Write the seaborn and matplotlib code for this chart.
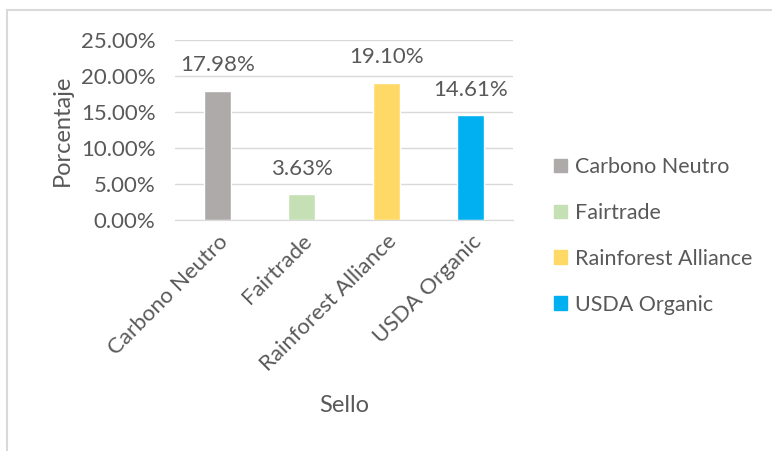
import matplotlib
matplotlib.use('Agg')
from matplotlib import pyplot as plt
from matplotlib.patches import Rectangle
import seaborn as sns
import pandas as pd

sns.set_style('white')
plt.rcParams['font.family'] = ['Lato', 'DejaVu Sans']

sellos = ['Carbono Neutro', 'Fairtrade', 'Rainforest Alliance', 'USDA Organic']
porcentajes = [17.98, 3.63, 19.10, 14.61]
colores = ['#AEAAAA', '#C5E0B4', '#FFD966', '#00B0F0']
yticks = [0, 5, 10, 15, 20, 25]

df = pd.DataFrame({'Sello': sellos, 'Porcentaje': porcentajes})
gray = '#595959'

fig = plt.figure(figsize=(7.72, 4.51), dpi=100)
ax = fig.add_axes([0.2267, 0.512, 0.438, 0.399])
sns.barplot(data=df, x='Sello', y='Porcentaje', hue='Sello', palette=colores,
            width=0.32, ax=ax, legend=False, saturation=1)

ax.set_ylim(0, 25)
ax.set_yticks(yticks)
ax.set_yticklabels([f'{v:.2f}%' for v in yticks], color=gray, fontsize=16)
ax.yaxis.grid(True, color='#D9D9D9', linewidth=1)
ax.set_axisbelow(True)
for s in ['top', 'right', 'left']:
    ax.spines[s].set_visible(False)
ax.spines['bottom'].set_color('#D9D9D9')
ax.tick_params(axis='y', length=0, pad=14)
ax.tick_params(axis='x', length=0, pad=8)
ax.set_xticks(range(len(sellos)))
ax.set_xticklabels(sellos, rotation=45, ha='right', rotation_mode='anchor',
                   color=gray, fontsize=16)
ax.set_xlabel('Sello', color=gray, fontsize=17, labelpad=14)
ax.set_ylabel('Porcentaje', color=gray, fontsize=17, labelpad=6)

for i, v in enumerate(porcentajes):
    ax.annotate(f'{v:.2f}%', (i, v), xytext=(0, 11), textcoords='offset points',
                ha='center', va='bottom', color=gray, fontsize=16)

handles = [Rectangle((0, 0), 1, 1, color=c) for c in colores]
fig.legend(handles, sellos, loc='center left', bbox_to_anchor=(0.692, 0.477),
           frameon=False, fontsize=15.5, labelcolor=gray, handlelength=0.6,
           handleheight=0.6, handletextpad=0.4, labelspacing=1.2)

fig.patches.append(Rectangle((7 / 772, -0.1), 1.2, 1 - 10 / 451 + 0.1,
                             transform=fig.transFigure, fill=False,
                             edgecolor='#D9D9D9', linewidth=1.5))

plt.savefig('out.png', dpi=100)
